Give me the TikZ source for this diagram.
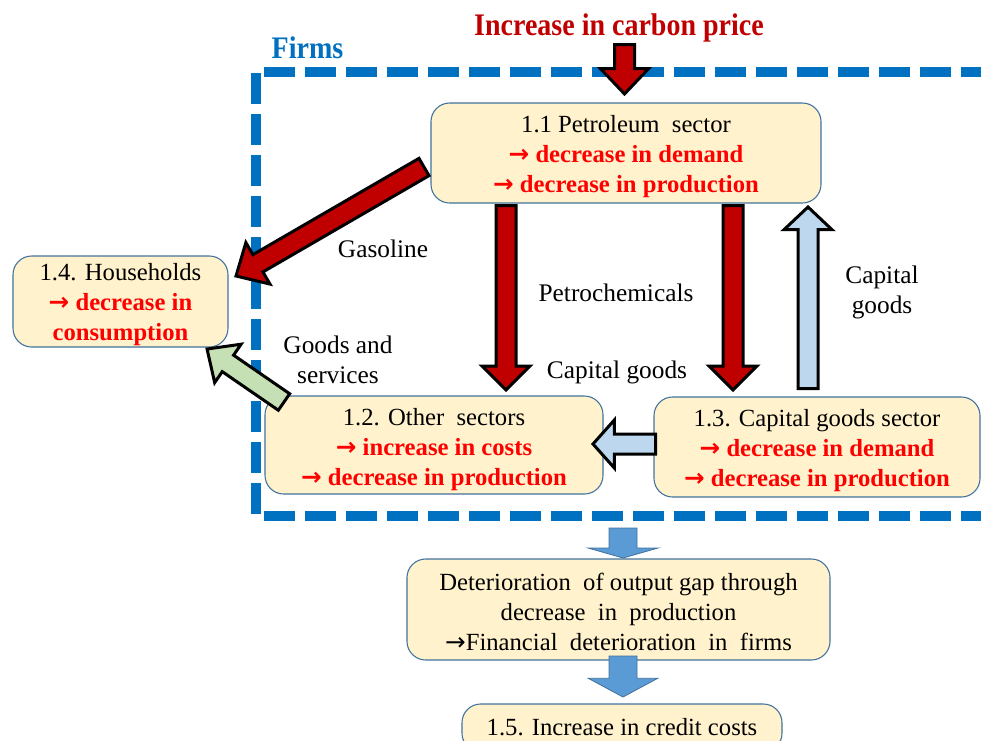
\documentclass[tikz,border=0pt]{standalone}
\usepackage{fontspec}
\setmainfont{Liberation Serif}
\newfontfamily\arrowfont{DejaVu Sans}
\usetikzlibrary{calc}
\definecolor{boxfill}{HTML}{FFF2CC}
\definecolor{boxline}{HTML}{41719C}
\definecolor{framecol}{HTML}{0070C0}
\definecolor{titlered}{HTML}{C00000}
\definecolor{arrowred}{HTML}{C00000}
\definecolor{textred}{HTML}{FF0000}
\definecolor{lightblue}{HTML}{BDD7EE}
\definecolor{lightgreen}{HTML}{C5E0B4}
\definecolor{midblue}{HTML}{5B9BD5}
\newcommand\redline[1]{\textcolor{textred}{\bfseries{\arrowfont →} #1}}
\newcommand\blockarrow[6]{%
  \draw[#1] let \p1=(#2), \p2=(#3), \n1={atan2(\y2-\y1,\x2-\x1)}, \n2={veclen(\x2-\x1,\y2-\y1)} in
    [shift={(\x1,\y1)}, rotate=\n1]
    (0pt,-#4) -- ({\n2-#6},-#4) -- ({\n2-#6},-#5) -- (\n2,0pt) -- ({\n2-#6},#5) -- ({\n2-#6},#4) -- (0pt,#4) -- cycle;
}
\tikzset{
  box/.style={draw=boxline, line width=0.8pt, fill=boxfill, rounded corners=14pt, inner sep=0pt},
  boxtext/.style={align=center, inner sep=0pt, font=\fontsize{18.5}{22.5}\selectfont},
  lab/.style={align=center, inner sep=0pt, font=\fontsize{19}{22.5}\selectfont},
  framedash/.style={draw=framecol, line width=7.5pt, dash pattern=on 23.25pt off 7.5pt},
  redarrow/.style={fill=arrowred, draw=black, line width=2.25pt, line join=miter, miter limit=10},
  bluearrow/.style={fill=lightblue, draw=black, line width=2.25pt, line join=miter, miter limit=10},
  greenarrow/.style={fill=lightgreen, draw=black, line width=2.25pt, line join=miter, miter limit=10},
  downarrow/.style={fill=midblue, draw=boxline, line width=0.6pt, line join=miter},
}
\begin{document}
\begin{tikzpicture}[x=0.75pt, y=-0.75pt]
\useasboundingbox (0,0) rectangle (981,740);

% frame
\draw[framedash] (255.5,73) -- (255.5,520);
\draw[framedash] (264,72) -- (990,72);
\draw[framedash] (264,516) -- (990,516);

% titles
\node[inner sep=0pt, font=\fontsize{21}{24}\selectfont\bfseries, text=titlered] (title) at (619,28) {\scalebox{1}[1.12]{Increase in carbon price}};
\node[inner sep=0pt, font=\fontsize{21}{24}\selectfont\bfseries, text=framecol] (firms) at (307.5,48) {\scalebox{1}[1.12]{Firms}};

% boxes
\node[box, minimum width=292.5pt, minimum height=75pt] (p11) at (626,153) {};
\node[boxtext] (p11t) at (626,157)
  {1.1 Petroleum\ \ sector\\ \redline{decrease in demand}\\ \redline{decrease in production}};
\node[box, minimum width=161.25pt, minimum height=68.25pt] (p14) at (120.5,301.5) {};
\node[boxtext] (p14t) at (120.5,305)
  {1.4. Households\\ \redline{decrease in}\\ \textcolor{textred}{\bfseries consumption}};
\node[box, minimum width=253.5pt, minimum height=73.5pt] (p12) at (434,445) {};
\node[boxtext] (p12t) at (434,450)
  {1.2. Other\ \ sectors\\ \redline{increase in costs}\\ \redline{decrease in production}};
\node[box, minimum width=244.5pt, minimum height=75pt] (p13) at (817,447) {};
\node[boxtext] (p13t) at (817,451)
  {1.3. Capital goods sector\\ \redline{decrease in demand}\\ \redline{decrease in production}};
\node[box, minimum width=317.25pt, minimum height=75.75pt] (det) at (618.5,609.5) {};
\node[boxtext] (dett) at (618.5,612)
  {Deterioration\ \ of output gap through\\ decrease\ \ in\ \ production\\ {\arrowfont →}Financial\ \ deterioration\ \ in\ \ firms};
\node[box, minimum width=240pt, minimum height=36pt] (p15) at (622,728) {};
\node[boxtext] (p15t) at (622,727) {1.5. Increase in credit costs};

% labels
\node[lab] (lgas) at (383,249) {Gasoline};
\node[lab] (lpetro) at (616,293) {Petrochemicals};
\node[lab] (lcap) at (617,372) {Capital goods};
\node[lab] (lcap2) at (882,292) {Capital\\ goods};
\node[lab] (lgs) at (338,360) {Goods and\\ services};

% arrow end points
\coordinate (topA) at (624.5,44.5);   \coordinate (topB) at (624.5,94);
\coordinate (gasA) at (424,167);      \coordinate (gasB) at (236,276);
\coordinate (petA) at (506,205.5);    \coordinate (petB) at (506,390);
\coordinate (capA) at (733,205.5);    \coordinate (capB) at (733,390);
\coordinate (upA) at (808,388.5);     \coordinate (upB) at (808,207);
\coordinate (lfA) at (655.5,444);     \coordinate (lfB) at (593,444);
\coordinate (grA) at (284,402);       \coordinate (grB) at (207,349);
\coordinate (d1A) at (623,528);       \coordinate (d1B) at (623,558);
\coordinate (d2A) at (623,656);       \coordinate (d2B) at (623,697);

% block arrows
\blockarrow{redarrow}{topA}{topB}{7.5pt}{18pt}{19pt}
\blockarrow{redarrow}{gasA}{gasB}{7.5pt}{18pt}{19pt}
\blockarrow{redarrow}{petA}{petB}{7.5pt}{18pt}{18pt}
\blockarrow{redarrow}{capA}{capB}{7.5pt}{18pt}{18pt}
\blockarrow{bluearrow}{upA}{upB}{7.5pt}{18pt}{17pt}
\blockarrow{bluearrow}{lfA}{lfB}{7.5pt}{18pt}{16pt}
\blockarrow{greenarrow}{grA}{grB}{7.5pt}{17.5pt}{19pt}
\blockarrow{downarrow}{d1A}{d1B}{10.5pt}{26.25pt}{7.5pt}
\blockarrow{downarrow}{d2A}{d2B}{10.5pt}{26pt}{14pt}
\end{tikzpicture}
\end{document}
